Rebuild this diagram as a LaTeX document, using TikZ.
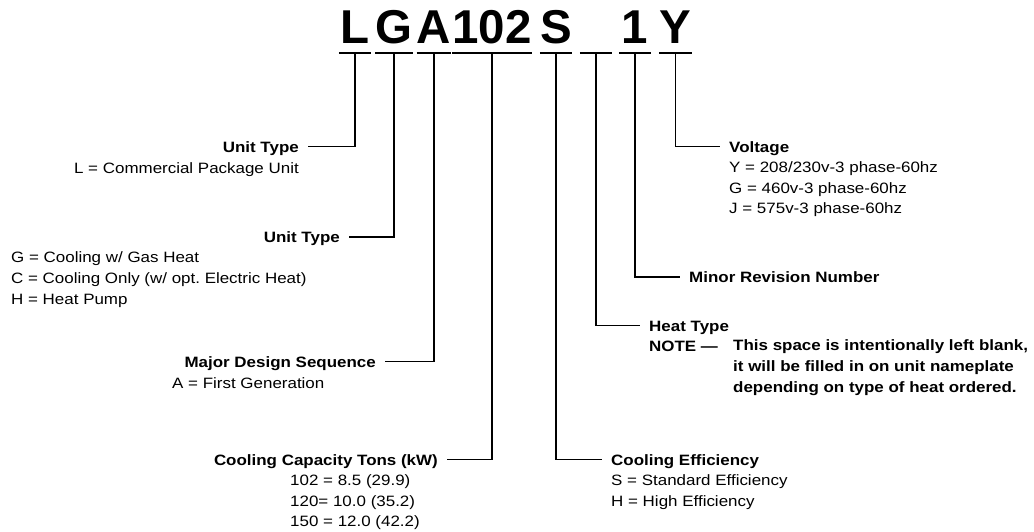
\documentclass[tikz,border=0pt]{standalone}
\usepackage{fontspec}
\setmainfont{Liberation Sans}[FakeStretch=1.13]
\newfontfamily\codefont{Liberation Sans}
\usetikzlibrary{positioning}
\frenchspacing

\newcommand{\labfont}{\fontsize{15}{20.7}\selectfont}
\newcommand{\bigcode}{\codefont\bfseries\fontsize{47.5}{50}\selectfont}

\begin{document}
\begin{tikzpicture}[x=1pt, y=-1pt,
    codebox/.style={inner xsep=0pt, inner ysep=9.7pt, text depth=0pt, anchor=base, font=\bigcode},
    rule/.style={line width=1.8pt},
    headtext/.style={font=\labfont\bfseries, inner xsep=9pt, inner ysep=0pt, text height=11pt, text depth=0pt},
    subtext/.style={font=\labfont, inner xsep=9pt, inner ysep=0pt, align=left,
        execute at begin node={\rule{0pt}{11.5pt}}}]
    \useasboundingbox (0,0) rectangle (1034,531);

    % Model number
    \foreach \nm/\x/\w/\ch in {cL/355/32/L, cG/394/31/G, cA/434/31/A, cCap/492/73/102,
        cS/556/31/S, cHeat/596/32/{}, cRev/635/32/1, cV/675.5/33/Y}
        \node[codebox, minimum width=\w] (\nm) at (\x,43) {\ch};
    \foreach \nm in {cL,cG,cA,cCap,cS,cHeat,cRev,cV}
        \draw[rule] (\nm.south west) -- (\nm.south east);

    % Left side
    \node (typeL) [headtext, anchor=east] at (308,146.5) {Unit Type};
    \node (typeLsub) [subtext, align=right, anchor=north east] at ([yshift=-9.2pt]typeL.south east) {L = Commercial Package Unit};
    \node (typeG) [headtext, anchor=east] at (349,237) {Unit Type};
    \node (typeGsub) [subtext, anchor=north west] at (2,251.7) {G = Cooling w/ Gas Heat\\C = Cooling Only (w/ opt. Electric Heat)\\H = Heat Pump};
    \node (design) [headtext, anchor=east] at (385,361.5) {Major Design Sequence};
    \node (designsub) [subtext, anchor=north west] at (163,376.5) {A = First Generation};
    \node (capacity) [headtext, anchor=east] at (447,459.5) {Cooling Capacity Tons (kW)};
    \node (capacitysub) [subtext, anchor=north west] at (281,474.5) {102 = 8.5 (29.9)\\120= 10.0 (35.2)\\150 = 12.0 (42.2)};

    % Right side
    \node (efficiency) [headtext, anchor=west] at (602,459.5) {Cooling Efficiency};
    \node (efficiencysub) [subtext, anchor=north west] at ([yshift=-9.2pt]efficiency.south west) {S = Standard Efficiency\\H = High Efficiency};
    \node (heat) [headtext, anchor=west] at (640,325.5) {Heat Type};
    \node (note) [headtext, anchor=base west] at ([yshift=-20.7pt]heat.base west) {NOTE ---};
    \node (notetext) [subtext, font=\labfont\bfseries, anchor=north west] at (724,339.7) {This space is intentionally left blank,\\it will be filled in on unit nameplate\\depending on type of heat ordered.};
    \node (revision) [headtext, anchor=west] at (680,277) {Minor Revision Number};
    \node (voltage) [headtext, anchor=west] at (720,146.5) {Voltage};
    \node (voltagesub) [subtext, anchor=north west] at ([yshift=-9.2pt]voltage.south west) {Y = 208/230v-3 phase-60hz\\G = 460v-3 phase-60hz\\J = 575v-3 phase-60hz};

    % Leaders
    \draw[rule] (cL.south) |- (typeL.east);
    \draw[rule] (cG.south) |- (typeG.east);
    \draw[rule] (cA.south) |- (design.east);
    \draw[rule] (cCap.south) |- (capacity.east);
    \draw[rule] (cS.south) |- (efficiency.west);
    \draw[rule] (cHeat.south) |- (heat.west);
    \draw[rule] (cRev.south) |- (revision.west);
    \draw[rule] (cV.south) |- (voltage.west);
\end{tikzpicture}
\end{document}
